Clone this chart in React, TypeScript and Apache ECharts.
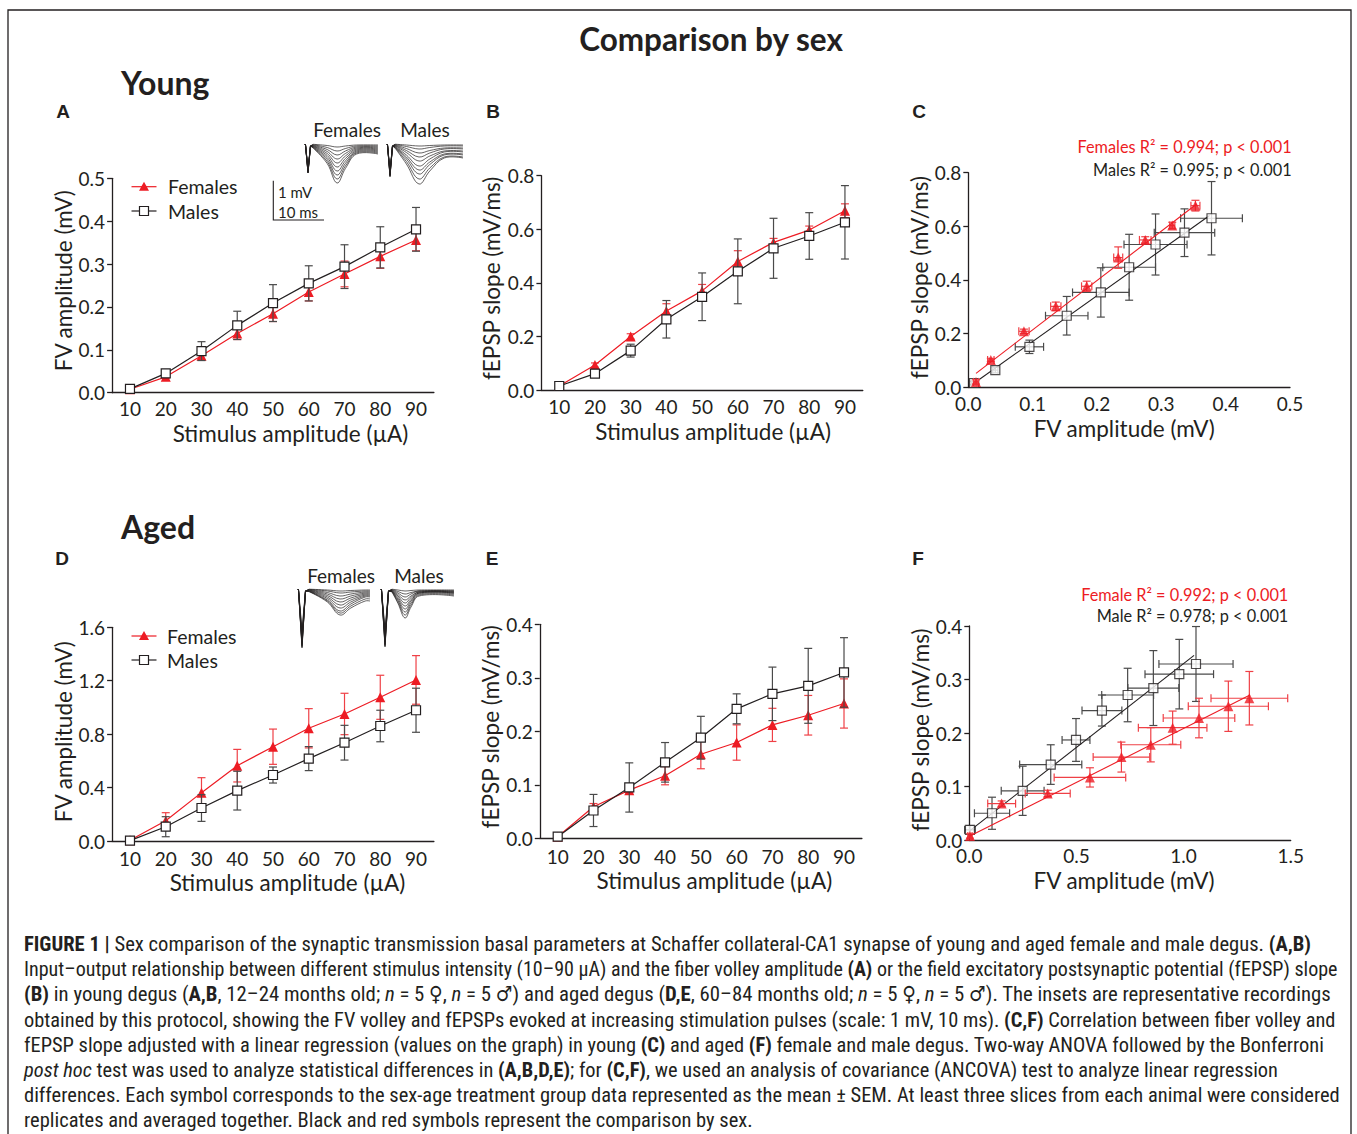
import React, { useEffect, useRef } from "react";
import * as echarts from "echarts";

// ---------------- DATA ----------------
const stimulus = [10, 20, 30, 40, 50, 60, 70, 80, 90];

// Panel A – young FV amplitude (mV)
const youngFemaleFV = [0.008, 0.037, 0.086, 0.138, 0.184, 0.235, 0.277, 0.318, 0.356];
const youngFemaleFVErr = [0.006, 0.004, 0.01, 0.014, 0.018, 0.021, 0.03, 0.028, 0.025];
const youngMaleFV = [0.009, 0.045, 0.097, 0.157, 0.209, 0.255, 0.294, 0.339, 0.381];
const youngMaleFVErr = [0.004, 0.006, 0.022, 0.033, 0.043, 0.041, 0.051, 0.048, 0.051];

// Panel B – young fEPSP slope (mV/ms)
const youngFemaleSlope = [0.015, 0.093, 0.2, 0.295, 0.37, 0.48, 0.551, 0.597, 0.669];
const youngFemaleSlopeErr = [0.005, 0.008, 0.01, 0.027, 0.024, 0.04, 0.015, 0.015, 0.026];
const youngMaleSlope = [0.015, 0.061, 0.147, 0.264, 0.348, 0.443, 0.529, 0.575, 0.626];
const youngMaleSlopeErr = [0.006, 0.012, 0.024, 0.07, 0.089, 0.121, 0.112, 0.087, 0.137];

// Panel C – young FV vs fEPSP
const cFemaleFV = [0.012, 0.035, 0.0865, 0.136, 0.184, 0.233, 0.275, 0.317, 0.353];
const cFemaleFVErr = [0.004, 0.005, 0.008, 0.008, 0.008, 0.007, 0.009, 0.004, 0.007];
const cFemaleSlope = [0.019, 0.101, 0.208, 0.301, 0.376, 0.483, 0.549, 0.603, 0.677];
const cFemaleSlopeErr = [0.008, 0.006, 0.008, 0.016, 0.019, 0.04, 0.012, 0.012, 0.02];
const cMaleFV = [0.009, 0.042, 0.095, 0.153, 0.206, 0.25, 0.291, 0.336, 0.378];
const cMaleFVErr = [0.004, 0.004, 0.022, 0.033, 0.044, 0.041, 0.049, 0.047, 0.048];
const cMaleSlope = [0.015, 0.063, 0.15, 0.266, 0.353, 0.447, 0.532, 0.576, 0.63];
const cMaleSlopeErr = [0.006, 0.01, 0.025, 0.072, 0.092, 0.123, 0.114, 0.089, 0.137];
const cFemaleFit = [[0.012, 0.051], [0.355, 0.683]];
const cMaleFit = [[0.005, 0.0075], [0.375, 0.64]];

// Panel D – aged FV amplitude (mV)
const agedFemaleFV = [0.005, 0.152, 0.362, 0.564, 0.706, 0.844, 0.951, 1.076, 1.206];
const agedFemaleFVErr = [0.01, 0.06, 0.112, 0.122, 0.132, 0.147, 0.155, 0.165, 0.182];
const agedMaleFV = [0.003, 0.107, 0.247, 0.377, 0.494, 0.617, 0.736, 0.861, 0.979];
const agedMaleFVErr = [0.01, 0.075, 0.1, 0.145, 0.06, 0.09, 0.13, 0.118, 0.165];

// Panel E – aged fEPSP slope (mV/ms)
const agedFemaleSlope = [0.003, 0.059, 0.09, 0.117, 0.157, 0.179, 0.212, 0.23, 0.252];
const agedFemaleSlopeErr = [0.003, 0.006, 0.005, 0.017, 0.027, 0.033, 0.031, 0.037, 0.046];
const agedMaleSlope = [0.003, 0.052, 0.095, 0.142, 0.188, 0.242, 0.27, 0.285, 0.31];
const agedMaleSlopeErr = [0.002, 0.03, 0.046, 0.037, 0.04, 0.028, 0.05, 0.07, 0.065];

// Panel F – aged FV vs fEPSP
const fFemaleFV = [0.003, 0.151, 0.366, 0.563, 0.71, 0.847, 0.949, 1.072, 1.209, 1.307];
const fFemaleFVErr = [0.01, 0.065, 0.105, 0.167, 0.132, 0.14, 0.16, 0.167, 0.187, 0.179];
const fFemaleSlope = [0.0075, 0.068, 0.087, 0.117, 0.155, 0.178, 0.21, 0.228, 0.25, 0.265];
const fFemaleSlopeErr = [0.004, 0.005, 0.006, 0.018, 0.028, 0.032, 0.031, 0.037, 0.047, 0.05];
const fMaleFV = [0.003, 0.106, 0.249, 0.38, 0.498, 0.619, 0.739, 0.859, 0.98, 1.058];
const fMaleFVErr = [0.025, 0.082, 0.1, 0.145, 0.065, 0.093, 0.121, 0.119, 0.16, 0.173];
const fMaleSlope = [0.019, 0.05, 0.092, 0.141, 0.187, 0.242, 0.271, 0.284, 0.31, 0.329];
const fMaleSlopeErr = [0.008, 0.03, 0.046, 0.037, 0.04, 0.029, 0.05, 0.07, 0.065, 0.07];
const fFemaleFit = [[0.003, 0.0075], [1.31, 0.271]];
const fMaleFit = [[0.003, 0.0174], [1.049, 0.345]];

// Inset traces (illustrative recordings) – trough depths, spike depths, end offsets (px)
const insetYoungFemaleTrough = [3, 7, 11, 15, 19, 23, 27, 31, 35, 39];
const insetYoungFemaleSpike = [24, 25, 26, 27, 27, 28, 28, 29, 29, 29];
const insetYoungFemaleEnd = [1, 2, 3, 4, 5, 6, 7, 8, 9, 10];
const insetYoungMaleTrough = [2, 5, 9, 13, 17, 22, 26, 30, 35, 40];
const insetYoungMaleSpike = [26, 27, 28, 29, 30, 31, 31, 32, 32, 33];
const insetYoungMaleEnd = [1, 2, 4, 5, 7, 8, 10, 11, 13, 14];
const insetAgedFemaleTrough = [2, 4, 7, 10, 13, 16, 19, 22, 24, 26];
const insetAgedFemaleSpike = [40, 44, 48, 51, 53, 55, 56, 57, 58, 59];
const insetAgedFemaleEnd = [1, 2, 3, 4, 5, 6, 7, 8, 10, 12];
const insetAgedMaleTrough = [2, 5, 8, 11, 14, 17, 20, 23, 26, 29];
const insetAgedMaleSpike = [40, 43, 46, 49, 51, 53, 55, 56, 57, 58];
const insetAgedMaleEnd = [1, 2, 2, 3, 3, 4, 4, 5, 6, 7];

const captionLines = [
  "{b|FIGURE 1 |} Sex comparison of the synaptic transmission basal parameters at Schaffer collateral-CA1 synapse of young and aged female and male degus. {b|(A,B)}",
  "Input–output relationship between different stimulus intensity (10–90 μA) and the fiber volley amplitude {b|(A)} or the field excitatory postsynaptic potential (fEPSP) slope",
  "{b|(B)} in young degus ({b|A,B}, 12–24 months old; {i|n} = 5 ♀, {i|n} = 5 ♂) and aged degus ({b|D,E}, 60–84 months old; {i|n} = 5 ♀, {i|n} = 5 ♂). The insets are representative recordings",
  "obtained by this protocol, showing the FV volley and fEPSPs evoked at increasing stimulation pulses (scale: 1 mV, 10 ms). {b|(C,F)} Correlation between fiber volley and",
  "fEPSP slope adjusted with a linear regression (values on the graph) in young {b|(C)} and aged {b|(F)} female and male degus. Two-way ANOVA followed by the Bonferroni",
  "{i|post hoc} test was used to analyze statistical differences in {b|(A,B,D,E)}; for {b|(C,F)}, we used an analysis of covariance (ANCOVA) test to analyze linear regression",
  "differences. Each symbol corresponds to the sex-age treatment group data represented as the mean ± SEM. At least three slices from each animal were considered",
  "replicates and averaged together. Black and red symbols represent the comparison by sex.",
];

// ---------------- STYLE ----------------
const RED = "#ed1c24";
const RED_ERR = "#ef4046";
const INK = "#231f20";
const GRAY_ERR = "#4a4a4a";
const AX_FONT = "Lato";
const CAP_FONT = "'Liberation Sans Narrow', 'Roboto Condensed', 'DejaVu Sans Condensed', sans-serif";
const CAP_SIZES = [20.6, 20.05, 20.75, 20.4, 20.45, 20.4, 20.5, 20.5];
const NAME_SIZE = 22.5;

const grids = [
  { left: 112.1, top: 178.3, width: 321.8, height: 214.4 }, // A
  { left: 541.4, top: 175.7, width: 321.4, height: 214.3 }, // B
  { left: 968.3, top: 172.7, width: 321.7, height: 214.3 }, // C
  { left: 112.1, top: 627.3, width: 321.8, height: 213.7 }, // D
  { left: 539.8, top: 624.3, width: 322.1, height: 214 }, // E
  { left: 969.3, top: 626, width: 321.4, height: 214 }, // F
];

function pairs(xs: number[], ys: number[]) {
  return xs.map((x, i) => [x, ys[i]]);
}

function errSeries(idx: number, data: number[][], color: string, z: number) {
  return {
    type: "custom",
    xAxisIndex: idx,
    yAxisIndex: idx,
    z,
    silent: true,
    clip: false,
    data,
    encode: { x: 0, y: 1 },
    renderItem: (_p: any, api: any) => {
      const x = api.value(0);
      const y = api.value(1);
      const ex = api.value(2);
      const ey = api.value(3);
      const st = { stroke: color, lineWidth: 1.2 };
      const cap = 4;
      const ch: any[] = [];
      if (ey > 0) {
        const t = api.coord([x, y + ey]);
        const b = api.coord([x, y - ey]);
        ch.push({ type: "line", shape: { x1: t[0], y1: t[1], x2: b[0], y2: b[1] }, style: st });
        ch.push({ type: "line", shape: { x1: t[0] - cap, y1: t[1], x2: t[0] + cap, y2: t[1] }, style: st });
        ch.push({ type: "line", shape: { x1: b[0] - cap, y1: b[1], x2: b[0] + cap, y2: b[1] }, style: st });
      }
      if (ex > 0) {
        const l = api.coord([x - ex, y]);
        const r = api.coord([x + ex, y]);
        ch.push({ type: "line", shape: { x1: l[0], y1: l[1], x2: r[0], y2: r[1] }, style: st });
        ch.push({ type: "line", shape: { x1: l[0], y1: l[1] - cap, x2: l[0], y2: l[1] + cap }, style: st });
        ch.push({ type: "line", shape: { x1: r[0], y1: r[1] - cap, x2: r[0], y2: r[1] + cap }, style: st });
      }
      return { type: "group", children: ch };
    },
  };
}

function femaleLine(idx: number, data: number[][], showLine = true) {
  return {
    type: showLine ? "line" : "scatter",
    name: "Females",
    xAxisIndex: idx,
    yAxisIndex: idx,
    data,
    symbol: "triangle",
    symbolSize: 10,
    z: 3,
    itemStyle: { color: RED, borderWidth: 0 },
    lineStyle: { color: RED, width: 1.2 },
    silent: true,
  };
}

function maleLine(idx: number, data: number[][], showLine = true) {
  return {
    type: showLine ? "line" : "scatter",
    name: "Males",
    xAxisIndex: idx,
    yAxisIndex: idx,
    data,
    symbol: "rect",
    symbolSize: 9,
    z: 5,
    itemStyle: { color: "#ffffff", borderColor: INK, borderWidth: 1.2 },
    lineStyle: { color: INK, width: 1.2 },
    silent: true,
  };
}

function fitLine(idx: number, data: number[][], color: string, z: number) {
  return {
    type: "line",
    xAxisIndex: idx,
    yAxisIndex: idx,
    data,
    symbol: "none",
    z,
    lineStyle: { color, width: 1.1 },
    silent: true,
  };
}

function errData(xs: number[], ys: number[], exs: number[] | null, eys: number[]) {
  return xs.map((x, i) => [x, ys[i], exs ? exs[i] : 0, eys[i]]);
}

const labelStyle = { fontFamily: AX_FONT, fontSize: 19, color: INK };

function xAxisStim(idx: number, nameGap: number, pad: number[], margin: number) {
  return {
    type: "value",
    gridIndex: idx,
    min: 5,
    max: 95,
    axisLine: { show: true, onZero: false, lineStyle: { color: INK, width: 1.3 } },
    axisTick: { show: false },
    splitLine: { show: false },
    axisLabel: { ...labelStyle, customValues: stimulus, margin },
    name: "Stimulus amplitude (µA)",
    nameLocation: "middle",
    nameGap,
    nameTextStyle: { fontFamily: AX_FONT, fontSize: NAME_SIZE, color: INK, padding: pad },
  };
}

function xAxisFV(idx: number, max: number, interval: number, nameGap: number, pad: number[], margin: number) {
  return {
    type: "value",
    gridIndex: idx,
    min: 0,
    max,
    interval,
    axisLine: { show: true, onZero: false, lineStyle: { color: INK, width: 1.3 } },
    axisTick: { show: false },
    splitLine: { show: false },
    axisLabel: { ...labelStyle, margin, formatter: (v: number) => v.toFixed(1) },
    name: "FV amplitude (mV)",
    nameLocation: "middle",
    nameGap,
    nameTextStyle: { fontFamily: AX_FONT, fontSize: NAME_SIZE, color: INK, padding: pad },
  };
}

function yAxisDef(idx: number, max: number, interval: number, name: string, nameGap: number, pad: number[]) {
  return {
    type: "value",
    gridIndex: idx,
    min: 0,
    max,
    interval,
    axisLine: { show: true, onZero: false, lineStyle: { color: INK, width: 1.3 } },
    axisTick: { show: true, length: 5, lineStyle: { color: INK, width: 1.3 } },
    splitLine: { show: false },
    axisLabel: { ...labelStyle, margin: 7, formatter: (v: number) => v.toFixed(1) },
    name,
    nameLocation: "middle",
    nameGap,
    nameTextStyle: { fontFamily: AX_FONT, fontSize: NAME_SIZE, color: INK, padding: pad },
  };
}

function text(x: number, y: number, t: string, o: any = {}) {
  return {
    type: "text",
    x,
    y,
    silent: true,
    style: {
      text: t,
      fill: o.fill || INK,
      fontFamily: o.fontFamily || AX_FONT,
      fontSize: o.fontSize || 19,
      fontWeight: o.fontWeight || "normal",
      textAlign: o.align || "left",
      textVerticalAlign: "middle",
      ...(o.rich ? { rich: o.rich } : {}),
    },
  };
}

function traces(
  x0: number,
  y0: number,
  w: number,
  spikeX: number,
  spikeW: number,
  troughX: number,
  troughW: number,
  troughs: number[],
  spikes: number[],
  ends: number[]
) {
  const els: any[] = [];
  const st = { stroke: INK, lineWidth: 0.7, fill: "none" };
  troughs.forEach((d, k) => {
    const sd = spikes[k];
    const eo = ends[k];
    const spike = [
      [x0, y0],
      [x0 + spikeX - spikeW / 2, y0 + 1],
      [x0 + spikeX, y0 + sd],
      [x0 + spikeX + spikeW / 2, y0 + 2],
      [x0 + spikeX + spikeW, y0 + 0.1 * d],
    ];
    const trough = [
      [x0 + spikeX + spikeW, y0 + 0.1 * d],
      [x0 + troughX - troughW * 0.7, y0 + 0.5 * d],
      [x0 + troughX, y0 + d],
      [x0 + troughX + troughW * 0.6, y0 + 0.5 * d + 0.5 * eo],
      [x0 + troughX + troughW * 1.4, y0 + eo],
      [x0 + w, y0 + eo],
    ];
    els.push({ type: "polyline", silent: true, shape: { points: spike }, style: st });
    els.push({ type: "polyline", silent: true, shape: { points: trough, smooth: 0.4 }, style: st });
  });
  return els;
}

function legendGraphic(x: number, yF: number, yM: number, tx: number) {
  return [
    { type: "line", silent: true, shape: { x1: x, y1: yF, x2: x + 25, y2: yF }, style: { stroke: RED, lineWidth: 1.2 } },
    {
      type: "polygon",
      silent: true,
      shape: { points: [[x + 12.5, yF - 5], [x + 17.5, yF + 4], [x + 7.5, yF + 4]] },
      style: { fill: RED },
    },
    text(tx, yF, "Females", { fontSize: 19.5 }),
    { type: "line", silent: true, shape: { x1: x, y1: yM, x2: x + 25, y2: yM }, style: { stroke: INK, lineWidth: 1.2 } },
    {
      type: "rect",
      silent: true,
      shape: { x: x + 8, y: yM - 4.5, width: 9, height: 9 },
      style: { fill: "#fff", stroke: INK, lineWidth: 1.2 },
      z: 2,
    },
    text(tx, yM, "Males", { fontSize: 19.5 }),
  ];
}

function captionRich(size: number) {
  return {
    b: { fontFamily: CAP_FONT, fontSize: size, fontWeight: "bold", fill: INK },
    i: { fontFamily: CAP_FONT, fontSize: size, fontStyle: "italic", fill: INK },
  };
}

export default function App() {
  const ref = useRef<HTMLDivElement>(null);
  useEffect(() => {
    if (!ref.current) return;
    const chart = echarts.init(ref.current, undefined, { renderer: "svg" });

    const letter = { fontSize: 19, fontWeight: "bold", align: "center", fontFamily: "Liberation Sans" };
    const graphic: any[] = [
      {
        type: "rect",
        silent: true,
        shape: { x: 8, y: 10, width: 1343, height: 1140 },
        style: { fill: "none", stroke: INK, lineWidth: 1.3 },
      },
      text(711, 39, "Comparison by sex", { fontSize: 31.5, fontWeight: "bold", align: "center" }),
      text(121, 82, "Young", { fontSize: 32, fontWeight: "bold" }),
      text(121, 526, "Aged", { fontSize: 32, fontWeight: "bold" }),
      text(63, 111, "A", letter),
      text(493, 111, "B", letter),
      text(919, 111, "C", letter),
      text(62, 558, "D", letter),
      text(492, 558, "E", letter),
      text(918, 558, "F", letter),
      ...legendGraphic(131.5, 186.7, 211, 168),
      ...legendGraphic(131.5, 636, 660, 167),
      // insets young
      text(347, 129, "Females", { fontSize: 19, align: "center" }),
      text(425, 129, "Males", { fontSize: 19, align: "center" }),
      ...traces(305, 144, 73, 3, 5, 32, 14, insetYoungFemaleTrough, insetYoungFemaleSpike, insetYoungFemaleEnd),
      ...traces(387, 144, 76, 3, 5, 32, 18, insetYoungMaleTrough, insetYoungMaleSpike, insetYoungMaleEnd),
      {
        type: "polyline",
        silent: true,
        shape: { points: [[273.3, 180.7], [273.3, 220], [324, 220]] },
        style: { stroke: INK, lineWidth: 1.1, fill: "none" },
      },
      text(278, 191.5, "1 mV", { fontSize: 15 }),
      text(278, 211.5, "10 ms", { fontSize: 15 }),
      // insets aged
      text(341, 575, "Females", { fontSize: 19, align: "center" }),
      text(419, 575, "Males", { fontSize: 19, align: "center" }),
      ...traces(298, 589, 72, 4, 7, 42, 18, insetAgedFemaleTrough, insetAgedFemaleSpike, insetAgedFemaleEnd),
      ...traces(381, 589, 73, 4, 7, 24, 10, insetAgedMaleTrough, insetAgedMaleSpike, insetAgedMaleEnd),
      // regression annotations
      text(1291.7, 146.7, "Females R² = 0.994; p < 0.001", { fontSize: 16.3, align: "right", fill: RED }),
      text(1291.7, 169.3, "Males R² = 0.995; p < 0.001", { fontSize: 16.3, align: "right" }),
      text(1288.3, 594, "Female R² = 0.992; p < 0.001", { fontSize: 16.3, align: "right", fill: RED }),
      text(1288.3, 615, "Male R² = 0.978; p < 0.001", { fontSize: 16.3, align: "right" }),
      // caption
      ...captionLines.map((ln, k) =>
        text(24, 944 + k * 25.2, ln, {
          fontSize: CAP_SIZES[k],
          fontFamily: CAP_FONT,
          rich: captionRich(CAP_SIZES[k]),
        })
      ),
    ];

    const option: any = {
      animation: false,
      backgroundColor: "#ffffff",
      grid: grids.map((g) => ({ ...g, containLabel: false })),
      xAxis: [
        xAxisStim(0, 29.5, [0, 0, 0, 35], 6),
        xAxisStim(1, 30.3, [0, 0, 0, 22], 6.5),
        xAxisFV(2, 0.5, 0.1, 29.8, [0, 10, 0, 0], 6.5),
        xAxisStim(3, 29.8, [0, 0, 0, 29], 7.5),
        xAxisStim(4, 30.5, [0, 0, 0, 27], 9),
        xAxisFV(5, 1.5, 0.5, 28.5, [0, 12, 0, 0], 5.5),
      ],
      yAxis: [
        yAxisDef(0, 0.5, 0.1, "FV amplitude (mV)", 36.5, [0, 0, 0, 9.4]),
        yAxisDef(1, 0.8, 0.2, "fEPSP slope (mV/ms)", 38.4, [0, 0, 0, 9]),
        yAxisDef(2, 0.8, 0.2, "fEPSP slope (mV/ms)", 37.3, [0, 0, 0, 4.7]),
        yAxisDef(3, 1.6, 0.4, "FV amplitude (mV)", 35.5, [0, 0, 0, 5]),
        yAxisDef(4, 0.4, 0.1, "fEPSP slope (mV/ms)", 35, [0, 0, 0, 9]),
        yAxisDef(5, 0.4, 0.1, "fEPSP slope (mV/ms)", 34, [0, 0, 0, 6]),
      ],
      series: [
        // A
        errSeries(0, errData(stimulus, youngFemaleFV, null, youngFemaleFVErr), RED_ERR, 2),
        femaleLine(0, pairs(stimulus, youngFemaleFV)),
        errSeries(0, errData(stimulus, youngMaleFV, null, youngMaleFVErr), GRAY_ERR, 4),
        maleLine(0, pairs(stimulus, youngMaleFV)),
        // B
        errSeries(1, errData(stimulus, youngFemaleSlope, null, youngFemaleSlopeErr), RED_ERR, 2),
        femaleLine(1, pairs(stimulus, youngFemaleSlope)),
        errSeries(1, errData(stimulus, youngMaleSlope, null, youngMaleSlopeErr), GRAY_ERR, 4),
        maleLine(1, pairs(stimulus, youngMaleSlope)),
        // C
        fitLine(2, cMaleFit, INK, 2),
        errSeries(2, errData(cMaleFV, cMaleSlope, cMaleFVErr, cMaleSlopeErr), GRAY_ERR, 2),
        maleLine(2, pairs(cMaleFV, cMaleSlope), false),
        fitLine(2, cFemaleFit, RED, 6),
        errSeries(2, errData(cFemaleFV, cFemaleSlope, cFemaleFVErr, cFemaleSlopeErr), RED_ERR, 6),
        { ...femaleLine(2, pairs(cFemaleFV, cFemaleSlope), false), z: 7 },
        // D
        errSeries(3, errData(stimulus, agedFemaleFV, null, agedFemaleFVErr), RED_ERR, 2),
        femaleLine(3, pairs(stimulus, agedFemaleFV)),
        errSeries(3, errData(stimulus, agedMaleFV, null, agedMaleFVErr), GRAY_ERR, 4),
        maleLine(3, pairs(stimulus, agedMaleFV)),
        // E
        errSeries(4, errData(stimulus, agedFemaleSlope, null, agedFemaleSlopeErr), RED_ERR, 2),
        femaleLine(4, pairs(stimulus, agedFemaleSlope)),
        errSeries(4, errData(stimulus, agedMaleSlope, null, agedMaleSlopeErr), GRAY_ERR, 4),
        maleLine(4, pairs(stimulus, agedMaleSlope)),
        // F
        fitLine(5, fMaleFit, INK, 2),
        errSeries(5, errData(fMaleFV, fMaleSlope, fMaleFVErr, fMaleSlopeErr), GRAY_ERR, 2),
        maleLine(5, pairs(fMaleFV, fMaleSlope), false),
        fitLine(5, fFemaleFit, RED, 6),
        errSeries(5, errData(fFemaleFV, fFemaleSlope, fFemaleFVErr, fFemaleSlopeErr), RED_ERR, 6),
        { ...femaleLine(5, pairs(fFemaleFV, fFemaleSlope), false), z: 7 },
      ],
      graphic,
    };
    chart.setOption(option);
    return () => chart.dispose();
  }, []);

  return (
    <div
      ref={ref}
      style={{ position: "absolute", left: 0, top: 0, width: 1357, height: 1134, background: "#fff" }}
    />
  );
}
